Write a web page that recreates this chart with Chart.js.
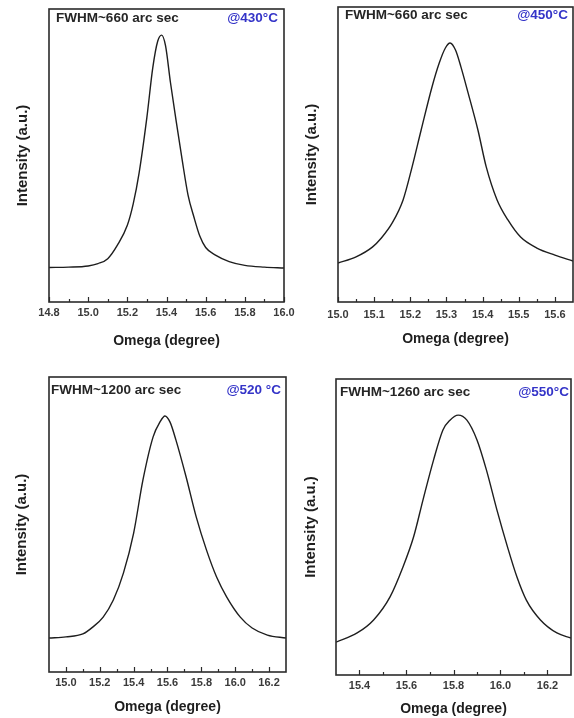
<!DOCTYPE html>
<html>
<head>
<meta charset="utf-8">
<script src="https://cdn.jsdelivr.net/npm/chart.js@4"></script>
<style>
  body { margin: 0; background: #fff; width: 574px; height: 718px; position: relative; overflow: hidden; }
  canvas { position: absolute; }
</style>
</head>
<body>
<canvas id="c430" width="298" height="355" style="left:0;top:0"></canvas>
<canvas id="c450" width="284" height="355" style="left:290px;top:0"></canvas>
<canvas id="c520" width="298" height="358" style="left:0;top:360px"></canvas>
<canvas id="c550" width="284" height="358" style="left:290px;top:360px"></canvas>
<script>
// rocking curves (intensity normalised to the frame height)
const omega430 = [14.8, 14.9, 15.0, 15.05, 15.1, 15.15, 15.2, 15.23, 15.26, 15.3, 15.33, 15.355, 15.375, 15.395, 15.42, 15.45, 15.48, 15.51, 15.54, 15.57, 15.6, 15.65, 15.72, 15.8, 15.9, 16.0];
const intensity430 = [0.118, 0.119, 0.123, 0.131, 0.148, 0.195, 0.262, 0.335, 0.44, 0.631, 0.80, 0.89, 0.911, 0.875, 0.75, 0.615, 0.485, 0.365, 0.29, 0.225, 0.186, 0.16, 0.138, 0.125, 0.119, 0.116];

const omega450 = [15.0, 15.05, 15.095, 15.12, 15.15, 15.18, 15.205, 15.23, 15.26, 15.28, 15.297, 15.31, 15.325, 15.34, 15.36, 15.387, 15.41, 15.44, 15.47, 15.505, 15.55, 15.6, 15.65];
const intensity450 = [0.132, 0.153, 0.186, 0.217, 0.268, 0.346, 0.458, 0.583, 0.729, 0.810, 0.861, 0.878, 0.854, 0.797, 0.708, 0.583, 0.458, 0.346, 0.278, 0.220, 0.183, 0.159, 0.139];

const omega520 = [14.9, 15.0, 15.1, 15.16, 15.22, 15.28, 15.34, 15.4, 15.455, 15.515, 15.555, 15.585, 15.615, 15.65, 15.71, 15.77, 15.83, 15.89, 15.95, 16.03, 16.1, 16.19, 16.3];
const intensity520 = [0.115, 0.119, 0.129, 0.153, 0.186, 0.244, 0.336, 0.471, 0.651, 0.797, 0.847, 0.868, 0.847, 0.786, 0.661, 0.525, 0.414, 0.322, 0.254, 0.186, 0.149, 0.125, 0.115];

const omega550 = [15.3, 15.39, 15.46, 15.53, 15.585, 15.63, 15.67, 15.715, 15.755, 15.785, 15.82, 15.857, 15.9, 15.94, 15.985, 16.03, 16.07, 16.11, 16.17, 16.24, 16.3];
const intensity550 = [0.111, 0.142, 0.186, 0.264, 0.365, 0.466, 0.591, 0.726, 0.828, 0.861, 0.878, 0.861, 0.794, 0.693, 0.557, 0.432, 0.331, 0.253, 0.186, 0.142, 0.125];

// tick labels and minor ticks
const ticks430 = [14.8, 15.0, 15.2, 15.4, 15.6, 15.8, 16.0];
const minor430 = [14.9, 15.1, 15.3, 15.5, 15.7, 15.9];
const ticks450 = [15.0, 15.1, 15.2, 15.3, 15.4, 15.5, 15.6];
const minor450 = [15.05, 15.15, 15.25, 15.35, 15.45, 15.55];
const ticks520 = [15.0, 15.2, 15.4, 15.6, 15.8, 16.0, 16.2];
const minor520 = [15.1, 15.3, 15.5, 15.7, 15.9, 16.1];
const ticks550 = [15.4, 15.6, 15.8, 16.0, 16.2];
const minor550 = [15.5, 15.7, 15.9, 16.1];

const fwhmLabels = ['FWHM~660 arc sec', 'FWHM~660 arc sec', 'FWHM~1200 arc sec', 'FWHM~1260 arc sec'];
const tempLabels = ['@430°C', '@450°C', '@520 °C', '@550°C'];

const FONT = '"Liberation Sans", Arial, sans-serif';

const framePlugin = {
  id: 'frame',
  afterDraw(chart, args, o) {
    const { ctx, chartArea: a, scales: { x } } = chart;
    ctx.save();
    ctx.strokeStyle = '#2b2b2b';
    ctx.lineWidth = 1.2;
    const tick = (v, len) => {
      const px = Math.round(x.getPixelForValue(v)) + 0.5;
      ctx.beginPath();
      ctx.moveTo(px, a.bottom);
      ctx.lineTo(px, a.bottom - len);
      ctx.stroke();
    };
    o.major.forEach(v => tick(v, 5));
    o.minor.forEach(v => tick(v, 3));
    ctx.lineWidth = 1.6;
    ctx.strokeRect(a.left, a.top, a.right - a.left, a.bottom - a.top);

    ctx.textBaseline = 'middle';
    ctx.font = 'bold 13.5px ' + FONT;
    ctx.fillStyle = '#262626';
    ctx.textAlign = 'left';
    ctx.fillText(o.fwhm, a.left + o.dxLeft, a.top + o.dy);
    ctx.fillStyle = '#3434c8';
    ctx.textAlign = 'right';
    ctx.fillText(o.temp, a.right - o.dxRight, a.top + o.dy);
    ctx.restore();
  }
};

const panels = [
  { id: 'c430', xs: omega430, ys: intensity430, min: 14.8, max: 16.0, ticks: ticks430, minor: minor430,
    area: { left: 49, right: 14, top: 9, xh: 53 }, titlePad: { x: 5, y: 14 }, labelPad: 4, text: { dxLeft: 7, dxRight: 6, dy: 9 } },
  { id: 'c450', xs: omega450, ys: intensity450, min: 15.0, max: 15.65, ticks: ticks450, minor: minor450,
    area: { left: 48, right: 1, top: 7, xh: 53 }, titlePad: { x: 7, y: 13 }, labelPad: 6, text: { dxLeft: 7, dxRight: 5, dy: 8 } },
  { id: 'c520', xs: omega520, ys: intensity520, min: 14.9, max: 16.3, ticks: ticks520, minor: minor520,
    area: { left: 49, right: 12, top: 17, xh: 46 }, titlePad: { x: 2, y: 13 }, labelPad: 4, text: { dxLeft: 2, dxRight: 5, dy: 13 } },
  { id: 'c550', xs: omega550, ys: intensity550, min: 15.3, max: 16.3, ticks: ticks550, minor: minor550,
    area: { left: 46, right: 3, top: 19, xh: 43 }, titlePad: { x: 0, y: 12 }, labelPad: 4, text: { dxLeft: 4, dxRight: 2, dy: 13 } }
];

panels.forEach((p, i) => {
  new Chart(document.getElementById(p.id), {
    type: 'line',
    data: {
      datasets: [{
        data: p.xs.map((x, k) => ({ x, y: p.ys[k] })),
        borderColor: '#1e1e1e',
        borderWidth: 1.4,
        pointRadius: 0,
        cubicInterpolationMode: 'monotone',
        fill: false
      }]
    },
    options: {
      responsive: false,
      animation: false,
      devicePixelRatio: 1,
      layout: { padding: { top: p.area.top, right: p.area.right, left: 0, bottom: 0 } },
      plugins: {
        legend: { display: false },
        tooltip: { enabled: false },
        frame: { major: p.ticks, minor: p.minor, fwhm: fwhmLabels[i], temp: tempLabels[i], ...p.text }
      },
      scales: {
        x: {
          type: 'linear',
          min: p.min,
          max: p.max,
          grid: { display: false, drawTicks: false },
          border: { display: false },
          afterBuildTicks: s => { s.ticks = p.ticks.map(v => ({ value: v })); },
          afterFit: s => { s.height = p.area.xh; s.paddingLeft = 0; s.paddingRight = 0; },
          ticks: {
            padding: p.labelPad,
            maxRotation: 0,
            autoSkip: false,
            color: '#3a3a3a',
            font: { family: FONT, size: 11, weight: 'bold' },
            callback: v => v.toFixed(1)
          },
          title: {
            display: true,
            text: 'Omega (degree)',
            color: '#1e1e1e',
            font: { family: FONT, size: 14, weight: 'bold' },
            padding: { top: 0, bottom: p.titlePad.x }
          }
        },
        y: {
          min: 0,
          max: 1,
          grid: { display: false, drawTicks: false },
          border: { display: false },
          ticks: { display: false },
          afterFit: s => { s.width = p.area.left; },
          title: {
            display: true,
            text: 'Intensity (a.u.)',
            color: '#1e1e1e',
            font: { family: FONT, size: 15, weight: 'bold' },
            padding: { top: p.titlePad.y, bottom: 0 }
          }
        }
      }
    },
    plugins: [framePlugin]
  });
});
</script>
</body>
</html>
